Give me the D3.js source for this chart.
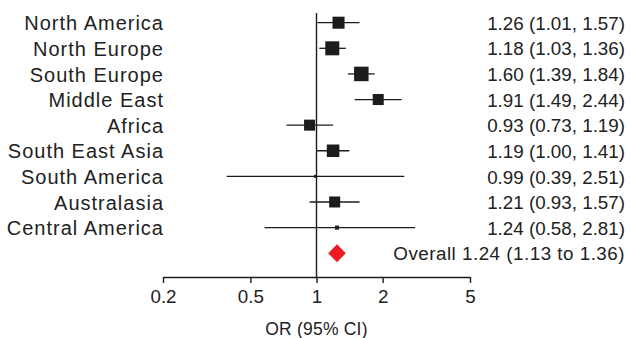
<!DOCTYPE html>
<html>
<head>
<meta charset="utf-8">
<script src="https://cdn.jsdelivr.net/npm/d3@7"></script>
<style>
  html, body { margin: 0; padding: 0; background: #fff; }
  svg { display: block; font-family: "Liberation Sans", Arial, sans-serif; }
</style>
</head>
<body>
<svg id="chart" width="631" height="338"></svg>
<script>
const regions = ["North America", "North Europe", "South Europe", "Middle East", "Africa",
                 "South East Asia", "South America", "Australasia", "Central America"];
const orValues = [1.26, 1.18, 1.60, 1.91, 0.93, 1.19, 0.99, 1.21, 1.24];
const ciLower  = [1.01, 1.03, 1.39, 1.49, 0.73, 1.00, 0.39, 0.93, 0.58];
const ciUpper  = [1.57, 1.36, 1.84, 2.44, 1.19, 1.41, 2.51, 1.57, 2.81];
const weights  = [13.2, 17.9, 19.2, 11.1, 11.1, 14.3, 0.8, 11.1, 1.5];
const overall  = { or: 1.24, lo: 1.13, hi: 1.36 };
const tickValues = [0.2, 0.5, 1, 2, 5];
const axisTitle = "OR (95% CI)";

const svg = d3.select("#chart");
const ink = "#1c1c1c";

const x = d3.scaleLog().domain([0.2, 5]).range([163, 470]);
const rows = d3.range(regions.length + 1);
const y = d3.scalePoint().domain(rows).range([22.7, 253.2]);
const size = d3.scaleSqrt().domain([0, 20]).range([0, 14.8]);
const axisY = 277;

// reference line at OR = 1
svg.append("line")
  .attr("x1", x(1)).attr("x2", x(1))
  .attr("y1", 13).attr("y2", axisY)
  .attr("stroke", ink).attr("stroke-width", 1.4);

const data = regions.map((r, i) => ({ r, i, or: orValues[i], lo: ciLower[i], hi: ciUpper[i], w: weights[i] }));

// CI lines
svg.append("g").selectAll("line").data(data).join("line")
  .attr("x1", d => x(d.lo)).attr("x2", d => x(d.hi))
  .attr("y1", d => y(d.i)).attr("y2", d => y(d.i))
  .attr("stroke", ink).attr("stroke-width", 1.3);

// squares
svg.append("g").selectAll("rect").data(data).join("rect")
  .attr("x", d => x(d.or) - size(d.w) / 2)
  .attr("y", d => y(d.i) - size(d.w) / 2)
  .attr("width", d => size(d.w)).attr("height", d => size(d.w))
  .attr("fill", ink);

// region labels
svg.append("g").selectAll("text").data(data).join("text")
  .attr("x", 164).attr("y", d => y(d.i)).attr("dy", "0.38em")
  .attr("text-anchor", "end")
  .attr("font-size", 20).attr("letter-spacing", 1.0)
  .attr("fill", "#222")
  .text(d => d.r);

// right-side estimates
svg.append("g").selectAll("text").data(data).join("text")
  .attr("x", 625).attr("y", d => y(d.i)).attr("dy", "0.38em")
  .attr("text-anchor", "end")
  .attr("font-size", 18.8)
  .attr("fill", "#222")
  .text(d => `${d.or.toFixed(2)} (${d.lo.toFixed(2)}, ${d.hi.toFixed(2)})`);

// overall diamond
const oy = y(regions.length);
svg.append("path")
  .attr("d", `M${x(overall.lo)},${oy} L${x(overall.or)},${oy - 9} L${x(overall.hi)},${oy} L${x(overall.or)},${oy + 9} Z`)
  .attr("fill", "#ec1c24");

svg.append("text")
  .attr("x", 625).attr("y", oy).attr("dy", "0.38em")
  .attr("text-anchor", "end")
  .attr("font-size", 18.8).attr("letter-spacing", 0.5)
  .attr("fill", "#222")
  .text(`Overall ${overall.or.toFixed(2)} (${overall.lo.toFixed(2)} to ${overall.hi.toFixed(2)})`);

// axis
const axis = d3.axisBottom(x)
  .tickValues(tickValues)
  .tickFormat(d3.format("~g"))
  .tickSize(6).tickSizeOuter(0).tickPadding(7);

const gAxis = svg.append("g").attr("transform", `translate(0,${axisY})`).call(axis);
gAxis.select(".domain").attr("stroke", ink).attr("stroke-width", 1.4);
gAxis.selectAll(".tick line").attr("stroke", ink).attr("stroke-width", 1.4);
gAxis.selectAll(".tick text")
  .attr("font-size", 18.8).attr("fill", "#222")
  .attr("font-family", "'Liberation Sans', Arial, sans-serif");

svg.append("text")
  .attr("x", x(1)).attr("y", 334.5)
  .attr("text-anchor", "middle")
  .attr("font-size", 17.5).attr("letter-spacing", 0.2)
  .attr("fill", "#222")
  .text(axisTitle);
</script>
</body>
</html>
